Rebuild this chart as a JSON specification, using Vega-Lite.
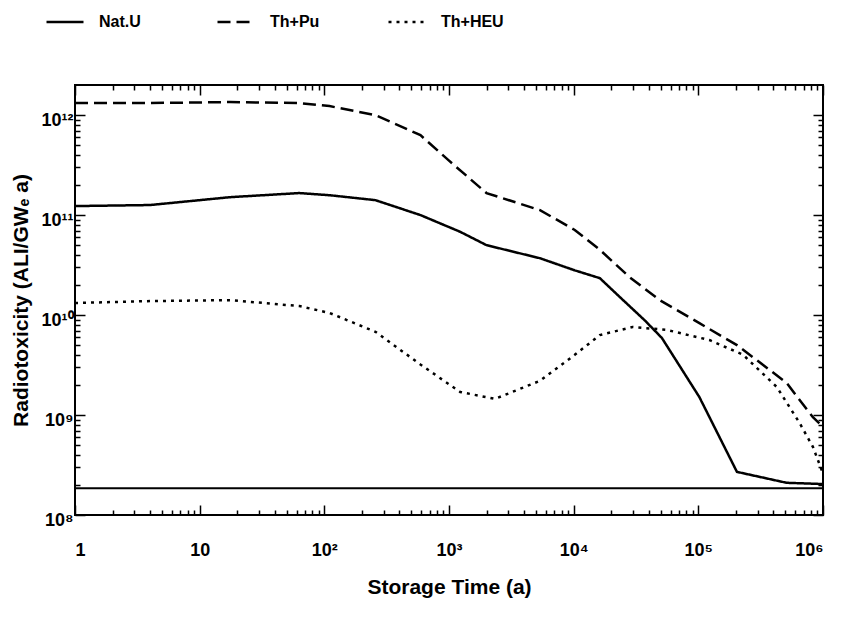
{
  "$schema": "https://vega.github.io/schema/vega-lite/v6.json",
  "width": 748,
  "height": 430,
  "autosize": "none",
  "padding": {"left": 75, "top": 85, "right": 19, "bottom": 104},
  "background": "white",
  "config": {
    "view": {"stroke": "black", "strokeWidth": 2},
    "font": "Liberation Sans",
    "axis": {"grid": false, "domain": false, "tickColor": "black", "tickWidth": 1.5, "labelFont": "Liberation Sans", "labelFontWeight": "bold", "labelFontSize": 18, "labelColor": "black", "titleFont": "Liberation Sans", "titleFontWeight": "bold", "titleFontSize": 21, "titleColor": "black"}
  },
  "datasets": {
    "curves": [
      {"t": 1, "v": 1.23e11, "s": "Nat.U"},
      {"t": 4, "v": 1.26e11, "s": "Nat.U"},
      {"t": 17.5, "v": 1.51e11, "s": "Nat.U"},
      {"t": 63, "v": 1.66e11, "s": "Nat.U"},
      {"t": 110, "v": 1.58e11, "s": "Nat.U"},
      {"t": 257, "v": 1.41e11, "s": "Nat.U"},
      {"t": 590, "v": 1.0e11, "s": "Nat.U"},
      {"t": 1230, "v": 6.8e10, "s": "Nat.U"},
      {"t": 2000, "v": 5.0e10, "s": "Nat.U"},
      {"t": 5370, "v": 3.7e10, "s": "Nat.U"},
      {"t": 10200, "v": 2.8e10, "s": "Nat.U"},
      {"t": 16200, "v": 2.34e10, "s": "Nat.U"},
      {"t": 23500, "v": 1.51e10, "s": "Nat.U"},
      {"t": 37000, "v": 8.9e9, "s": "Nat.U"},
      {"t": 51000, "v": 5.9e9, "s": "Nat.U"},
      {"t": 102000, "v": 1.51e9, "s": "Nat.U"},
      {"t": 204000, "v": 2.7e8, "s": "Nat.U"},
      {"t": 510000, "v": 2.1e8, "s": "Nat.U"},
      {"t": 1000000, "v": 2.04e8, "s": "Nat.U"},

      {"t": 1, "v": 1.32e12, "s": "Th+Pu"},
      {"t": 4, "v": 1.32e12, "s": "Th+Pu"},
      {"t": 17.5, "v": 1.35e12, "s": "Th+Pu"},
      {"t": 63, "v": 1.32e12, "s": "Th+Pu"},
      {"t": 110, "v": 1.23e12, "s": "Th+Pu"},
      {"t": 257, "v": 1.0e12, "s": "Th+Pu"},
      {"t": 590, "v": 6.3e11, "s": "Th+Pu"},
      {"t": 1000, "v": 3.5e11, "s": "Th+Pu"},
      {"t": 2000, "v": 1.66e11, "s": "Th+Pu"},
      {"t": 5370, "v": 1.12e11, "s": "Th+Pu"},
      {"t": 10200, "v": 7.1e10, "s": "Th+Pu"},
      {"t": 16200, "v": 4.5e10, "s": "Th+Pu"},
      {"t": 28000, "v": 2.4e10, "s": "Th+Pu"},
      {"t": 49000, "v": 1.41e10, "s": "Th+Pu"},
      {"t": 102000, "v": 8.3e9, "s": "Th+Pu"},
      {"t": 204000, "v": 5.0e9, "s": "Th+Pu"},
      {"t": 510000, "v": 2.1e9, "s": "Th+Pu"},
      {"t": 830000, "v": 9.5e8, "s": "Th+Pu"},
      {"t": 1000000, "v": 7.6e8, "s": "Th+Pu"},

      {"t": 1, "v": 1.32e10, "s": "Th+HEU"},
      {"t": 4, "v": 1.38e10, "s": "Th+HEU"},
      {"t": 17.5, "v": 1.41e10, "s": "Th+HEU"},
      {"t": 63, "v": 1.23e10, "s": "Th+HEU"},
      {"t": 110, "v": 1.05e10, "s": "Th+HEU"},
      {"t": 257, "v": 6.8e9, "s": "Th+HEU"},
      {"t": 590, "v": 3.2e9, "s": "Th+HEU"},
      {"t": 1230, "v": 1.7e9, "s": "Th+HEU"},
      {"t": 2340, "v": 1.45e9, "s": "Th+HEU"},
      {"t": 5370, "v": 2.2e9, "s": "Th+HEU"},
      {"t": 10200, "v": 4.0e9, "s": "Th+HEU"},
      {"t": 16200, "v": 6.3e9, "s": "Th+HEU"},
      {"t": 29700, "v": 7.6e9, "s": "Th+HEU"},
      {"t": 56000, "v": 7.1e9, "s": "Th+HEU"},
      {"t": 124000, "v": 5.6e9, "s": "Th+HEU"},
      {"t": 229000, "v": 4.0e9, "s": "Th+HEU"},
      {"t": 427000, "v": 1.9e9, "s": "Th+HEU"},
      {"t": 650000, "v": 8.3e8, "s": "Th+HEU"},
      {"t": 830000, "v": 4.8e8, "s": "Th+HEU"},
      {"t": 1000000, "v": 2.6e8, "s": "Th+HEU"}
    ],
    "level": [{"v": 1.85e8}]
  },
  "resolve": {"axis": {"x": "independent", "y": "independent"}},
  "layer": [
    {
      "data": {"name": "curves"},
      "mark": {"type": "line", "color": "black", "strokeWidth": 2.5, "clip": true},
      "encoding": {
        "x": {"field": "t", "type": "quantitative",
          "scale": {"type": "log", "domain": [1, 1000000], "nice": false},
          "axis": {"orient": "bottom", "title": "Storage Time (a)", "titleY": 72, "titleBaseline": "middle",
            "values": [1,2,3,4,5,6,7,8,9,10,20,30,40,50,60,70,80,90,100,200,300,400,500,600,700,800,900,1000,2000,3000,4000,5000,6000,7000,8000,9000,10000,20000,30000,40000,50000,60000,70000,80000,90000,100000,200000,300000,400000,500000,600000,700000,800000,900000,1000000],
            "tickSize": {"condition": {"test": "abs(log(datum.value)/LN10 - round(log(datum.value)/LN10)) < 0.000001", "value": -10}, "value": -5},
            "labelPadding": 36,
            "labelExpr": "datum.value == 1 ? '1' : datum.value == 10 ? '10' : datum.value == 100 ? '10²' : datum.value == 1000 ? '10³' : datum.value == 10000 ? '10⁴' : datum.value == 100000 ? '10⁵' : datum.value == 1000000 ? '10⁶' : ''"}},
        "y": {"field": "v", "type": "quantitative",
          "scale": {"type": "log", "domain": [1e8, 2e12], "nice": false},
          "axis": {"orient": "left", "title": "Radiotoxicity (ALI/GWₑ a)", "titleX": -54, "titleBaseline": "middle",
            "values": [1e8,2e8,3e8,4e8,5e8,6e8,7e8,8e8,9e8,1e9,2e9,3e9,4e9,5e9,6e9,7e9,8e9,9e9,1e10,2e10,3e10,4e10,5e10,6e10,7e10,8e10,9e10,1e11,2e11,3e11,4e11,5e11,6e11,7e11,8e11,9e11,1e12],
            "tickSize": {"condition": {"test": "abs(log(datum.value)/LN10 - round(log(datum.value)/LN10)) < 0.000001", "value": -10}, "value": -5},
            "labelPadding": 12, "labelOffset": 5,
            "labelExpr": "datum.value == 1e12 ? '10¹²' : datum.value == 1e11 ? '10¹¹' : datum.value == 1e10 ? '10¹⁰' : datum.value == 1e9 ? '10⁹' : datum.value == 1e8 ? '10⁸' : ''"}},
        "strokeDash": {"field": "s", "type": "nominal",
          "scale": {"domain": ["Nat.U", "Th+Pu", "Th+HEU"], "range": [[1, 0], [13, 6], [3, 5]]},
          "legend": {"orient": "none", "legendX": -30, "legendY": -83, "direction": "horizontal", "columns": 3, "title": null,
            "symbolType": "stroke", "symbolSize": 1369, "symbolStrokeWidth": 2.5, "symbolStrokeColor": "black",
            "labelFont": "Liberation Sans", "labelFontWeight": "bold", "labelFontSize": 16, "labelColor": "black",
            "labelOffset": 14, "columnPadding": 50, "gridAlign": "all"}}
      }
    },
    {
      "data": {"name": "curves"},
      "mark": {"type": "line", "opacity": 0},
      "encoding": {
        "x": {"field": "t", "type": "quantitative",
          "axis": {"orient": "top", "title": null, "labels": false,
            "values": [1,2,3,4,5,6,7,8,9,10,20,30,40,50,60,70,80,90,100,200,300,400,500,600,700,800,900,1000,2000,3000,4000,5000,6000,7000,8000,9000,10000,20000,30000,40000,50000,60000,70000,80000,90000,100000,200000,300000,400000,500000,600000,700000,800000,900000,1000000],
            "tickSize": {"condition": {"test": "abs(log(datum.value)/LN10 - round(log(datum.value)/LN10)) < 0.000001", "value": -10}, "value": -5}}},
        "y": {"field": "v", "type": "quantitative",
          "axis": {"orient": "right", "title": null, "labels": false,
            "values": [1e8,2e8,3e8,4e8,5e8,6e8,7e8,8e8,9e8,1e9,2e9,3e9,4e9,5e9,6e9,7e9,8e9,9e9,1e10,2e10,3e10,4e10,5e10,6e10,7e10,8e10,9e10,1e11,2e11,3e11,4e11,5e11,6e11,7e11,8e11,9e11,1e12],
            "tickSize": {"condition": {"test": "abs(log(datum.value)/LN10 - round(log(datum.value)/LN10)) < 0.000001", "value": -10}, "value": -5}}}
      }
    },
    {
      "data": {"name": "level"},
      "mark": {"type": "rule", "color": "black", "strokeWidth": 2},
      "encoding": {"y": {"field": "v", "type": "quantitative", "axis": null}}
    }
  ]
}
